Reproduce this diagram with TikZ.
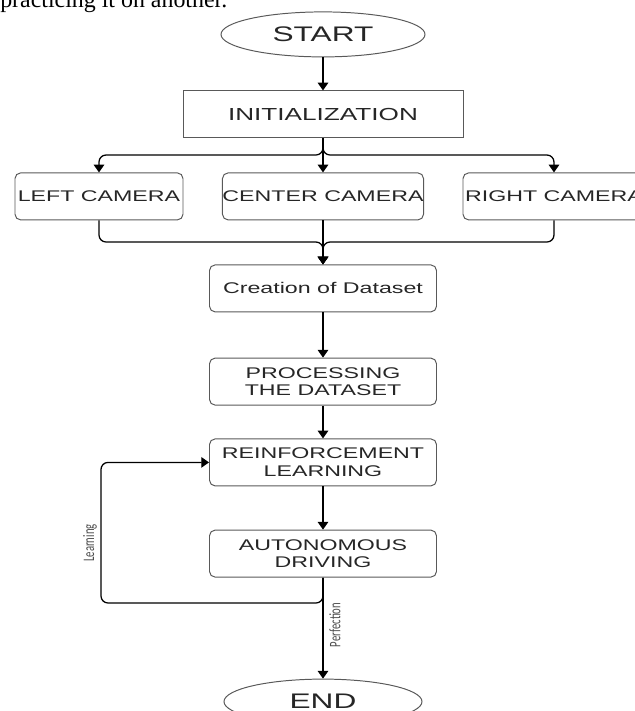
\documentclass[tikz,border=0pt]{standalone}
\usepackage{fontspec}
\setmainfont{Liberation Serif}
\newfontfamily\stretchfont[FakeStretch=1.5]{Liberation Sans}
\newfontfamily\labelfont{Carlito}
\usepackage{tikz}
\usetikzlibrary{calc}
\usetikzlibrary{shapes.geometric}
\usetikzlibrary{arrows.meta}
\newcommand{\tallside}[1]{\scalebox{1}[1.5]{#1}}

\begin{document}
\begin{tikzpicture}[
    terminal/.style={ellipse, draw=black!65, line width=0.7pt, inner sep=0pt,
        minimum width=5.1cm, minimum height=1.125cm, text=black!85,
        font=\stretchfont\fontsize{15}{17}\selectfont},
    stage/.style={rectangle, rounded corners=4pt, draw=black!65, line width=0.7pt,
        inner sep=0pt, minimum height=1.175cm, align=center, text=black!85,
        font=\stretchfont\fontsize{11}{12.5}\selectfont},
    flow/.style={line width=0.9pt, -{Triangle[length=5.5pt,width=7.5pt]}},
    side/.style={rotate=90, inner sep=0pt, text=black!70,
        font=\labelfont\fontsize{7.6}{9}\selectfont}]
        \useasboundingbox (-8.075,0) rectangle (7.8,-17.775);
        \node[anchor=base west, inner sep=0pt, font=\fontsize{17}{20}\selectfont] (prev) at (-8.075,-0.175) {practicing it on another.};
        \node[terminal] (start) at (0, -0.86) {START};
        \node[stage, rounded corners=0pt, minimum width=7cm, minimum height=1.175cm,
            font=\stretchfont\fontsize{12.4}{14}\selectfont] (init) at (0, -2.86) {INITIALIZATION};
        \node[stage, minimum width=4.2cm] (left) at (-5.6, -4.91) {LEFT CAMERA};
        \node[stage, minimum width=4.925cm] (center) at (0, -4.91) {CENTER CAMERA};
        \node[stage, minimum width=4.55cm] (right) at (5.775, -4.91) {RIGHT CAMERA};
        \node[stage, minimum width=5.675cm] (data) at (0, -7.21) {Creation of Dataset};
        \node[stage, minimum width=5.675cm] (proc) at (0, -9.54) {PROCESSING\\THE DATASET};
        \node[stage, minimum width=5.675cm] (reinf) at (0, -11.56) {REINFORCEMENT\\LEARNING};
        \node[stage, minimum width=5.675cm] (auto) at (0, -13.84) {AUTONOMOUS\\DRIVING};
        \node[terminal, minimum width=4.95cm] (end) at (0, -17.54) {END};
        \coordinate (split) at (0, -3.875);
        \coordinate (merge) at (0, -6.05);
        \coordinate (loop) at (-5.55, -15.075);
        \draw (start) edge[flow] (init);
        \draw[flow, rounded corners=5pt] (init.south) -- (split) -| (left.north);
        \draw[flow, rounded corners=5pt] (init.south) -- (split) -| (right.north);
        \draw (init) edge[flow] (center);
        \draw[flow, rounded corners=5pt] (left.south) |- (merge) -- (data.north);
        \draw[flow, rounded corners=5pt] (right.south) |- (merge) -- (data.north);
        \draw (center) edge[flow] (data);
        \draw (data) edge[flow] (proc);
        \draw (proc) edge[flow] (reinf);
        \draw (reinf) edge[flow] (auto);
        \draw (auto) edge[flow] (end);
        \draw[flow, rounded corners=5pt] (auto.south) |- (loop) |- (reinf.west);
        \node[side] (learn) at (-5.825, -13.575) {\tallside{Learning}};
        \node[side] (perf) at (0.3, -15.625) {\tallside{Perfection}};
\end{tikzpicture}
\end{document}
